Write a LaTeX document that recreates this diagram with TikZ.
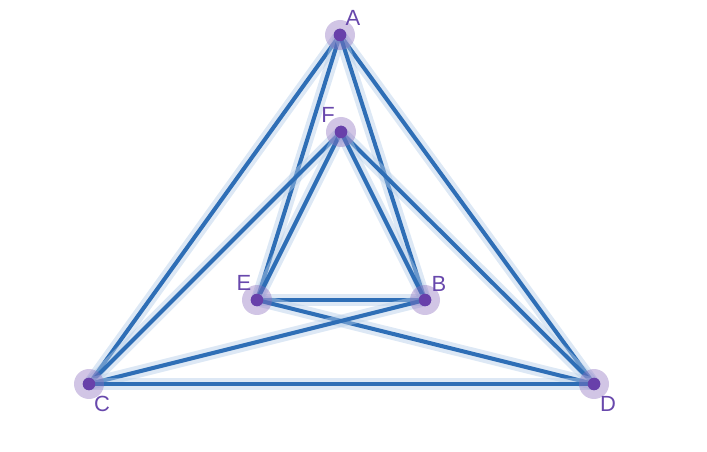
\documentclass[tikz,border=0pt]{standalone}
\usepackage{fontspec}
\setmainfont{Liberation Sans}
\definecolor{linkblue}{RGB}{46,110,182}
\definecolor{haloblue}{RGB}{180,205,232}
\definecolor{dotpurple}{RGB}{104,64,170}
\definecolor{ringpurple}{RGB}{140,110,190}
\definecolor{lblpurple}{RGB}{104,72,172}
\begin{document}
\begin{tikzpicture}[x=0.02cm, y=-0.02cm, font=\fontsize{12.5}{14}\selectfont, line join=round, line cap=round,
	vert/.style={circle, fill=dotpurple, inner sep=0pt, minimum size=0.25cm},
	ring/.style={fill=ringpurple, opacity=0.4},
	link/.style={draw=linkblue, line width=2.3pt, preaction={draw=haloblue, line width=7pt, opacity=0.45}},
	lbl/.style={text=lblpurple, inner sep=0pt}]
	\useasboundingbox (0,0) rectangle (707,452);
	% vertices
	\node[vert] (A) at (340,35) {};
	\node[vert] (F) at (341,132) {};
	\node[vert] (E) at (257,300) {};
	\node[vert] (B) at (425,300) {};
	\node[vert] (C) at (89,384) {};
	\node[vert] (D) at (594,384) {};
	% edges
	\foreach \u/\v in {A/C, A/D, A/E, A/B, F/C, F/D, F/E, F/B, E/B, E/D, C/B, C/D}
		\draw[link] (\u.center) -- (\v.center);
	% rings and dots on top
	\foreach \n in {A, F, E, B, C, D}
		\fill[ring] (\n.center) circle (0.3cm);
	\foreach \n in {A, F, E, B, C, D}
		\node[vert] at (\n) {};
	% labels
	\node[lbl] (lA) at ([shift={(13,-17)}]A) {A};
	\node[lbl] (lF) at ([shift={(-13,-17)}]F) {F};
	\node[lbl] (lE) at ([shift={(-13,-17)}]E) {E};
	\node[lbl] (lB) at ([shift={(14,-16)}]B) {B};
	\node[lbl] (lC) at ([shift={(13,20)}]C) {C};
	\node[lbl] (lD) at ([shift={(14,20)}]D) {D};
\end{tikzpicture}
\end{document}
